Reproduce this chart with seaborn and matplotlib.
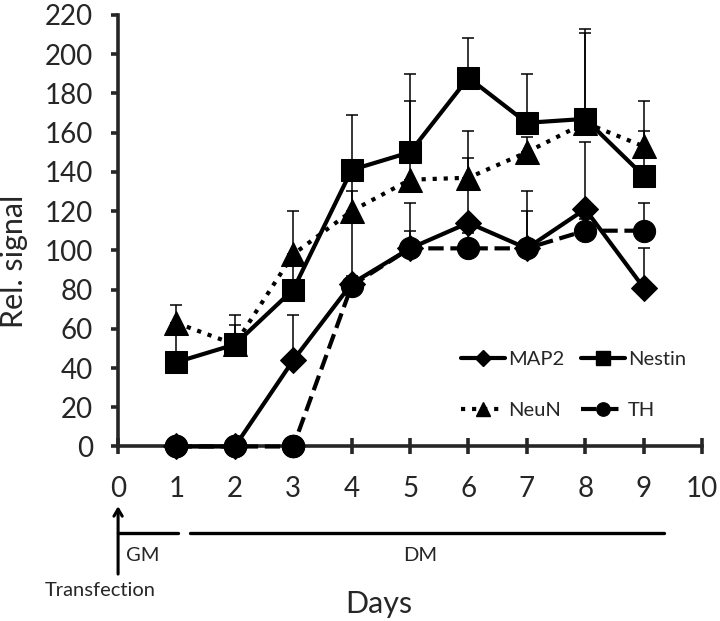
import numpy as np
import pandas as pd
import seaborn as sns
import matplotlib.pyplot as plt
from matplotlib.lines import Line2D

days = [1, 2, 3, 4, 5, 6, 7, 8, 9]

map2 = [0, 0, 44, 83, 101, 114, 101, 121, 81]
nestin = [43, 52, 80, 141, 150, 188, 165, 167, 138]
neun = [63, 52, 98, 120, 136, 137, 150, 165, 153]
th = [0, 0, 0, 82, 101, 101, 101, 110, 110]

# upper error bars only
map2_err = [0, 0, 23, 58, 23, 33, 29, 34, 20]
nestin_err = [20, 10, 15, 28, 40, 20, 25, 46, 23]
neun_err = [9, 15, 22, 10, 40, 24, 8, 46, 23]
th_err = [0, 0, 0, 5, 9, 8, 19, 6, 14]

sns.set_style("ticks")
plt.rcParams['font.family'] = ['Lato', 'DejaVu Sans']

fig = plt.figure(figsize=(7.2, 6.21), dpi=100)
ax = fig.add_axes([0.164, 0.281, 0.811, 0.695])

series = [
    ('TH', th, th_err, 'o', '--', 16, 3),
    ('MAP2', map2, map2_err, 'D', '-', 13, 4),
    ('Nestin', nestin, nestin_err, 's', '-', 16, 5),
    ('NeuN', neun, neun_err, '^', ':', 17, 5),
]

handles = {}
for name, vals, err, mk, ls, ms, z in series:
    df = pd.DataFrame({'day': days, 'val': vals})
    ax.errorbar(days, vals, yerr=[np.zeros(len(err)), err], fmt='none',
                ecolor='black', elinewidth=1.1, capsize=4, capthick=1.1, zorder=1)
    sns.lineplot(data=df, x='day', y='val', ax=ax, color='black',
                 marker=mk, markersize=ms, linestyle=ls, linewidth=3,
                 markeredgecolor='black', markerfacecolor='black', zorder=z,
                 clip_on=False)
    handles[name] = Line2D([], [], color='black', marker=mk, markersize=ms * 0.6,
                           linestyle=ls, linewidth=3)

# TH circles sit over the MAP2 diamonds at zero
ax.plot(days[:3], th[:3], 'o', color='black', markersize=16, zorder=6, clip_on=False)

ax.set_xlim(0, 10)
ax.set_ylim(0, 220)
ax.set_xticks(range(0, 11))
ax.set_yticks(range(0, 221, 20))
ax.set_xlabel('')
ax.set_ylabel('Rel. signal', fontsize=22)
ax.yaxis.set_label_coords(-0.155, 0.43)

for s in ['top', 'right']:
    ax.spines[s].set_visible(False)
for s in ['left', 'bottom']:
    ax.spines[s].set_linewidth(2.6)
ax.tick_params(axis='y', direction='out', length=5, width=2.6, labelsize=20, pad=13)
ax.tick_params(axis='x', direction='inout', length=12, width=2.6, labelsize=20, pad=15)

ax.legend([handles['MAP2'], handles['NeuN'], handles['Nestin'], handles['TH']],
          ['MAP2', 'NeuN', 'Nestin', 'TH'],
          ncol=2, frameon=False, fontsize=14.5, loc='upper left',
          bbox_to_anchor=(0.57, 0.245), handlelength=2.2, handletextpad=0.15,
          columnspacing=0.8, labelspacing=1.7, borderpad=0)

# medium / transfection annotation under the axis
tr = ax.get_xaxis_transform()
ax.plot([0, 1.03], [-0.201, -0.201], transform=tr, color='black', lw=2.4, clip_on=False)
ax.plot([1.23, 9.35], [-0.201, -0.201], transform=tr, color='black', lw=2.4, clip_on=False)
ax.annotate('', xy=(0, -0.132), xytext=(0, -0.302), xycoords=tr, textcoords=tr,
            arrowprops=dict(arrowstyle='->,head_length=0.5,head_width=0.3', lw=2.2, color='black'))
ax.text(0.43, -0.253, 'GM', transform=tr, ha='center', va='center', fontsize=14.5)
ax.text(5.17, -0.253, 'DM', transform=tr, ha='center', va='center', fontsize=14.5)
ax.text(-0.3, -0.333, 'Transfection', transform=tr, ha='center', va='center', fontsize=14.5)
ax.text(4.47, -0.365, 'Days', transform=tr, ha='center', va='center', fontsize=22)

fig.savefig('out.png', dpi=100)
